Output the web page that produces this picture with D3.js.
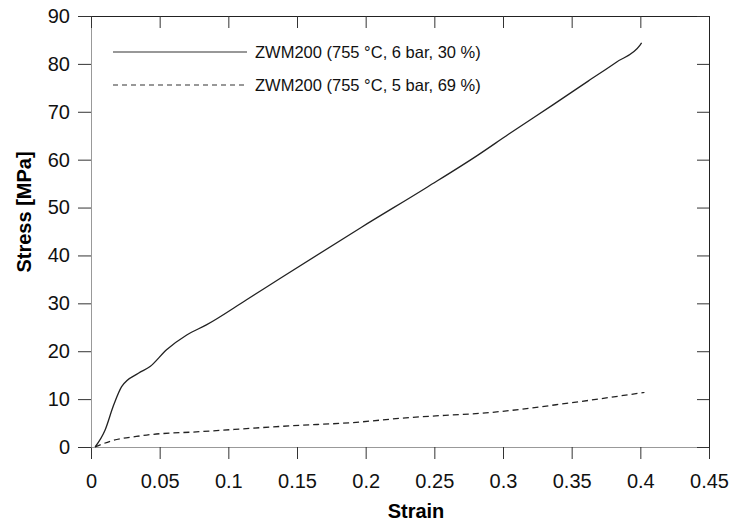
<!DOCTYPE html>
<html>
<head>
<meta charset="utf-8">
<script src="https://cdn.jsdelivr.net/npm/d3@7"></script>
<style>
  body { margin: 0; background: #fff; }
  text { font-family: "Liberation Sans", Arial, sans-serif; }
</style>
</head>
<body>
<div id="chart"></div>
<script>
// values
const strain6bar = [0.003, 0.0102, 0.0163, 0.0223, 0.0345, 0.043, 0.055, 0.0697, 0.084, 0.113, 0.1376, 0.197, 0.245, 0.282, 0.304, 0.3366, 0.362, 0.3828, 0.3998, 0.401];
const stress6bar = [0, 3.5, 8.6, 12.6, 15.4, 16.8, 20.3, 23.4, 25.5, 30.7, 35.2, 45.9, 54.3, 61.0, 65.3, 71.5, 76.4, 80.4, 83.9, 84.4];
const strain5bar = [0.003, 0.009, 0.0163, 0.033, 0.0405, 0.0794, 0.147, 0.193, 0.225, 0.298, 0.346, 0.403];
const stress5bar = [0, 0.7, 1.4, 2.2, 2.5, 3.2, 4.45, 5.15, 6.0, 7.4, 9.1, 11.4];
const xTicks = [0, 0.05, 0.1, 0.15, 0.2, 0.25, 0.3, 0.35, 0.4, 0.45];
const yTicks = [0, 10, 20, 30, 40, 50, 60, 70, 80, 90];
const seriesNames = ['ZWM200 (755 °C, 6 bar, 30 %)', 'ZWM200 (755 °C, 5 bar, 69 %)'];

const width = 734;
const height = 526;
const margin = { top: 16, right: 25, bottom: 79, left: 91 };
const w = width - margin.left - margin.right;
const h = height - margin.top - margin.bottom;

const svg = d3.select('#chart')
  .append('svg')
  .attr('width', width)
  .attr('height', height)
  .append('g')
  .attr('transform', `translate(${margin.left},${margin.top})`);

const x = d3.scaleLinear().domain([0, 0.45]).range([0, w]);
const y = d3.scaleLinear().domain([0, 90]).range([h, 0]);

const fmt = d => d === 0 ? '0' : String(d);

// bottom axis
const bx = svg.append('g')
  .attr('transform', `translate(0,${h})`)
  .call(d3.axisBottom(x).tickValues(xTicks).tickFormat(fmt).tickSize(12).tickSizeOuter(0));
bx.select('.domain').attr('stroke', '#999');
bx.selectAll('.tick line').attr('stroke', '#333');
bx.selectAll('text').attr('font-size', '20px').attr('y', 26.5).attr('fill', '#111');

// left axis
const ly = svg.append('g')
  .call(d3.axisLeft(y).tickValues(yTicks).tickSize(13).tickSizeOuter(0));
ly.select('.domain').attr('stroke', '#999');
ly.selectAll('.tick line').attr('stroke', '#333');
ly.selectAll('text').attr('font-size', '20px').attr('x', -21).attr('fill', '#111');

// top and right axes, ticks inward, no labels
const tx = svg.append('g')
  .call(d3.axisTop(x).tickValues(xTicks).tickSize(-12).tickSizeOuter(0).tickFormat(''));
tx.select('.domain').attr('stroke', '#222');
tx.selectAll('.tick line').attr('stroke', '#333');

const ry = svg.append('g')
  .attr('transform', `translate(${w},0)`)
  .call(d3.axisRight(y).tickValues(yTicks).tickSize(-12).tickSizeOuter(0).tickFormat(''));
ry.select('.domain').attr('stroke', '#222');
ry.selectAll('.tick line').attr('stroke', '#333');

const line = d3.line()
  .x(d => x(d[0]))
  .y(d => y(d[1]))
  .curve(d3.curveMonotoneX);

svg.append('path')
  .datum(strain6bar.map((s, i) => [s, stress6bar[i]]))
  .attr('fill', 'none')
  .attr('stroke', '#222')
  .attr('stroke-width', 1.3)
  .attr('d', line);

svg.append('path')
  .datum(strain5bar.map((s, i) => [s, stress5bar[i]]))
  .attr('fill', 'none')
  .attr('stroke', '#222')
  .attr('stroke-width', 1.3)
  .attr('stroke-dasharray', '6,4')
  .attr('d', line);

// legend
const legend = svg.append('g').attr('transform', 'translate(22,36)');
seriesNames.forEach((name, i) => {
  legend.append('line')
    .attr('x1', 0).attr('x2', 134)
    .attr('y1', i * 33).attr('y2', i * 33)
    .attr('stroke', '#333')
    .attr('stroke-width', 1.1)
    .attr('stroke-dasharray', i === 1 ? '5,4' : null);
  legend.append('text')
    .attr('x', 142)
    .attr('y', i * 33 + 6)
    .attr('font-size', '16.5px')
    .attr('fill', '#111')
    .text(name);
});

// axis titles
svg.append('text')
  .attr('x', 416 - margin.left)
  .attr('y', 518 - margin.top)
  .attr('text-anchor', 'middle')
  .attr('font-size', '20px')
  .attr('font-weight', 'bold')
  .text('Strain');

svg.append('text')
  .attr('transform', 'rotate(-90)')
  .attr('x', -(212 - margin.top))
  .attr('y', 31 - margin.left)
  .attr('text-anchor', 'middle')
  .attr('font-size', '20px')
  .attr('font-weight', 'bold')
  .text('Stress [MPa]');
</script>
</body>
</html>
